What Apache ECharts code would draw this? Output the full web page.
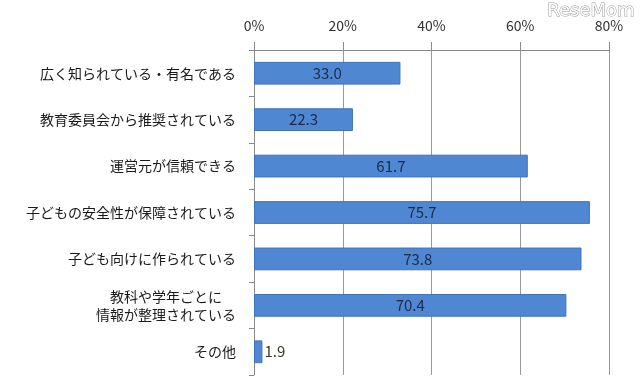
<!DOCTYPE html>
<html><head><meta charset="utf-8">
<script src="https://cdn.jsdelivr.net/npm/echarts@6/dist/echarts.min.js"></script>
<style>html,body{margin:0;padding:0;background:#fff}#c{width:640px;height:387px}</style>
</head><body><div id="c"></div>
<script>
const categories = [
  "広く知られている・有名である",
  "教育委員会から推奨されている",
  "運営元が信頼できる",
  "子どもの安全性が保障されている",
  "子ども向けに作られている",
  "教科や学年ごとに\u3000\n情報が整理されている",
  "その他"
];
const values = [33.0, 22.3, 61.7, 75.7, 73.8, 70.4, 1.9];
const xTicks = [0, 20, 40, 60, 80];

const chart = echarts.init(document.getElementById('c'), null, {renderer: 'canvas'});
const font = '"Noto Sans CJK JP", "Noto Sans", sans-serif';
chart.setOption({
  animation: false,
  backgroundColor: '#fff',
  grid: {left: 254, right: 31, top: 50, bottom: 12, containLabel: false},
  xAxis: {
    type: 'value', position: 'top', min: 0, max: 80, interval: 20,
    axisLine: {show: true, lineStyle: {color: '#8a8a8a', width: 1}},
    axisTick: {show: true, length: 8, lineStyle: {color: '#8a8a8a'}},
    splitLine: {show: true, lineStyle: {color: '#9a9a9a', width: 1}},
    axisLabel: {margin: 17, fontSize: 14, color: '#333', fontFamily: font,
      formatter: v => xTicks.includes(v) ? v + '%' : ''}
  },
  yAxis: {
    type: 'category', data: categories, inverse: true,
    axisLine: {show: true, lineStyle: {color: '#8a8a8a', width: 1}},
    axisTick: {show: true, length: 5, lineStyle: {color: '#8a8a8a'}},
    axisLabel: {margin: 18, fontSize: 14, color: '#1a1a1a', fontFamily: font, lineHeight: 18}
  },
  series: [{
    type: 'bar', data: values.map((v, i) => ({
      value: v,
      label: v < 10 ? {position: 'right', distance: 2, color: '#3a3a2a'} : {}
    })),
    barWidth: '49%',
    itemStyle: {color: '#5087D2', borderColor: '#3F73BA', borderWidth: 1},
    label: {show: true, position: 'inside', fontSize: 15, color: '#1b2a48', fontFamily: font,
      formatter: p => p.value.toFixed(1)}
  }],
  graphic: [{
    type: 'text', right: 5, top: 2,
    style: {text: 'ReseMom', fontSize: 18, fontFamily: '"DejaVu Sans", sans-serif',
      fill: '#fff', stroke: '#9a9a9a', lineWidth: 1}
  }]
});
</script></body></html>
